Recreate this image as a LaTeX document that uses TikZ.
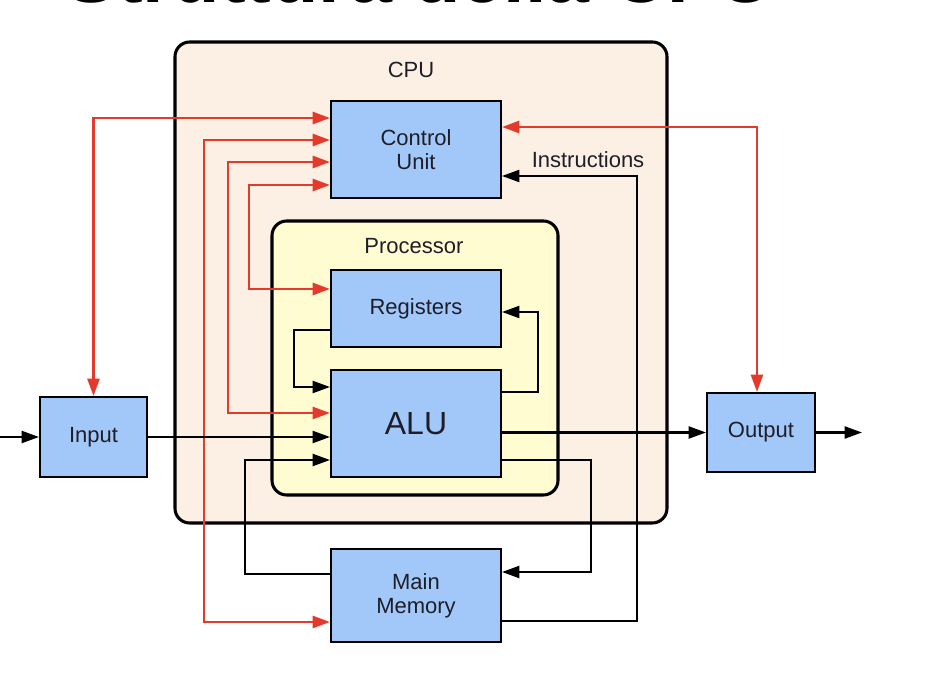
\documentclass[tikz,border=0pt]{standalone}
\usepackage{fontspec}
\setmainfont{Liberation Sans}
\usetikzlibrary{arrows.meta}
\definecolor{cpufill}{RGB}{252,240,228}
\definecolor{procfill}{RGB}{255,252,210}
\definecolor{boxblue}{RGB}{162,200,250}
\definecolor{sigred}{RGB}{228,58,44}
\definecolor{txt}{RGB}{30,30,40}
\tikzset{
  unit/.style={draw, fill=boxblue, line width=1.5pt, text=txt, align=center,
    font=\fontsize{16.5}{18}\selectfont, inner sep=0pt},
  frame/.style={draw, line width=2.3pt, rounded corners=11pt, inner sep=0pt},
  tip/.style={-{Triangle[length=13pt,width=9pt]}},
  bitip/.style={{Triangle[length=13pt,width=9pt]}-{Triangle[length=13pt,width=9pt]}},
  ctrl/.style={draw=sigred, line width=2pt, bitip},
  data/.style={draw=black, line width=1.6pt, tip},
}
\begin{document}
\begin{tikzpicture}[x=0.75pt,y=0.75pt,yscale=-1,xscale=1]
\useasboundingbox (0,0) rectangle (926,684);

% Title (cut off by the page)
\node [anchor=base, inner sep=0pt, font=\fontsize{58}{60}\selectfont\bfseries] (title) at (420,3) {Struttura della CPU};

%Shape: Rounded Rect [CPU]
\node [frame, fill=cpufill, minimum width=369pt, minimum height=360.75pt] (cpu) at (421,282.5) {};
\node [text=txt, font=\fontsize{16.5}{18}\selectfont] (cpulabel) at (411,70) {CPU};
%Shape: Rounded Rect [Processor]
\node [frame, fill=procfill, minimum width=214.5pt, minimum height=205.5pt] (proc) at (415,358) {};
\node [text=txt, font=\fontsize{16.5}{18}\selectfont] (proclabel) at (414,246) {Processor};

%Shape: Rectangles
\node [unit, minimum width=127.5pt, minimum height=72.75pt] (cu) at (416,149.5) {Control\\Unit};
\node [unit, minimum width=127.5pt, minimum height=57.75pt] (reg) at (416,308.5) {Registers};
\node [unit, minimum width=127.5pt, minimum height=80.25pt, font=\fontsize{24}{26}\selectfont] (alu) at (416,423.5) {ALU};
\node [unit, minimum width=127.5pt, minimum height=69.75pt] (mem) at (416,595.5) {Main\\Memory};
\node [unit, minimum width=80.25pt, minimum height=60pt] (input) at (93.5,437) {Input};
\node [unit, minimum width=81pt, minimum height=59.25pt] (output) at (761,432.5) {Output};

\coordinate (src) at (0,437);
\coordinate (sink) at (862,432.5);

%Red Lines
\draw [ctrl] ([xshift=-3pt]output.north) |- (cu.east |- 0,127);
\draw [ctrl] (input.north) |- (cu.west |- 0,118);
\draw [ctrl] (cu.west |- 0,140) -- ++(-126,0) |- (mem.west |- 0,622);
\draw [ctrl] (cu.west |- 0,162) -- ++(-102,0) |- (alu.west |- 0,413);
\draw [ctrl] (cu.west |- 0,185) -- ++(-81,0) |- (reg.west |- 0,289);

%Black Lines
\draw [data] (src) -- (input.west);
\draw [data] (input.east) -- (alu.west |- input.east);
\draw [data] (alu.east |- output.west) -- (output.west);
\draw [data] (output.east) -- (sink);
\draw [data] (reg.west |- 0,330) -- ++(-36,0) |- (alu.west |- 0,387);
\draw [data] (alu.east |- 0,392) -- ++(36,0) |- (reg.east |- 0,312);
\draw [data] (alu.east |- 0,460) -- ++(89,0) |- (mem.east |- 0,572);
\draw [data] (mem.west |- 0,574) -- ++(-85,0) |- (alu.west |- 0,460);
\draw [data] (mem.east |- 0,621) -- ++(135,0) |- (cu.east |- 0,176);

% Text Node
\node [text=txt, font=\fontsize{16.5}{18}\selectfont] (instr) at (588,160) {Instructions};

\end{tikzpicture}
\end{document}
